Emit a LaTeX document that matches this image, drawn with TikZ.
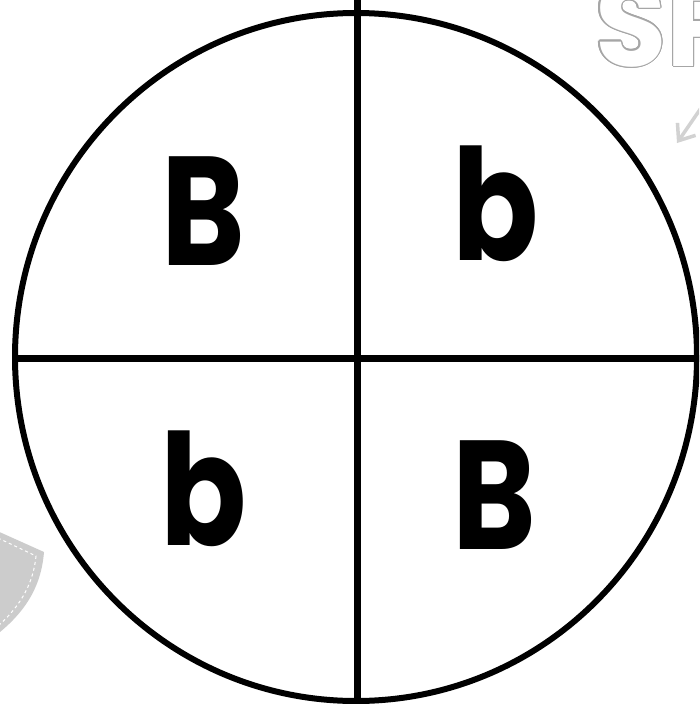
\documentclass[tikz,border=0pt]{standalone}
\usepackage{fontspec}
\setmainfont{Poppins}
\usepackage{contour}
\usetikzlibrary{arrows.meta}
\contourlength{1.4pt}
\newcommand{\narrow}[1]{\scalebox{0.82}[1]{#1}}
\begin{document}
\begin{tikzpicture}[x=1pt,y=-1pt,
  ring/.style={draw=black,line width=6pt},
  divider/.style={draw=black,line width=7pt},
  letter/.style={inner sep=0pt,font=\fontsize{155}{155}\selectfont\bfseries},
  deco/.style={draw=gray!35,line width=3.5pt}]
\path[use as bounding box] (0,0) rectangle (699,704);
\clip (0,0) rectangle (699,704);
\fill[white] (0,0) rectangle (699,704);
% decorations
\fill[gray!40] (-5,530) -- (44,552) .. controls (41,590) and (22,615) .. (-5,636) -- cycle;
\draw[white,dashed,line width=1pt] (-2,538) -- (36,556) .. controls (33,588) and (16,610) .. (-2,626);
\node[anchor=base west,inner sep=0pt,font=\fontsize{116}{116}\selectfont\bfseries] (sp) at (595,66)
  {\contour{gray!70}{\textcolor{white}{SP}}};
\coordinate (arS) at (712,92);
\coordinate (arE) at (677,143);
\draw[deco,-{Straight Barb[length=14pt,width=22pt]}] (arS) -- (arE);
% circle and dividers
\coordinate (c) at (356,357);
\draw[ring] (c) ellipse [x radius=341, y radius=344];
\coordinate (top) at (357,0);
\coordinate (bot) at (357,710);
\coordinate (lft) at (12,358);
\coordinate (rgt) at (710,358);
\draw[divider] (top) -- (bot);
\draw[divider] (lft) -- (rgt);
% letters
\node[letter] (tl) at (203.5,211) {\narrow{B}};
\node[letter] (tr) at (496,204) {\narrow{b}};
\node[letter] (bl) at (204,489) {\narrow{b}};
\node[letter] (br) at (494.5,495) {\narrow{B}};
\end{tikzpicture}
\end{document}
